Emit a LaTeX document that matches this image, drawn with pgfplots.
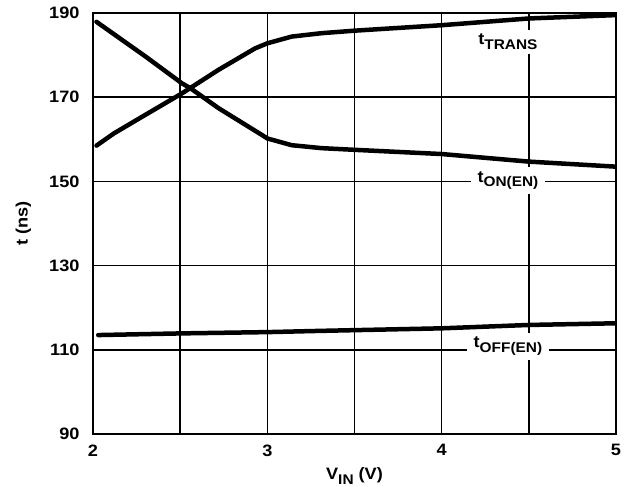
\documentclass[border=0pt]{standalone}
\usepackage{fontspec}
\setmainfont{Liberation Sans}[FakeStretch=1.1]
\usepackage{pgfplots}
\pgfplotsset{compat=1.18}
\newcommand{\sub}[1]{\raisebox{-0.3em}{\fontsize{14bp}{14bp}\selectfont #1}}
\tikzset{lbl/.style={fill=white, inner xsep=7bp, inner ysep=4bp,
    font=\bfseries\fontsize{16.5bp}{19bp}\selectfont},
  curve/.style={black, line width=4.5bp, line join=round, line cap=round}}

\begin{document}
\begin{tikzpicture}
\useasboundingbox (0,0) rectangle (635bp,487bp);
\begin{axis}[
  at={(93bp,53bp)}, anchor=south west,
  scale only axis, width=523bp, height=421bp,
  xmin=2, xmax=5, ymin=90, ymax=190,
  xtick={2,3,4,5}, minor xtick={2.5,3.5,4.5},
  ytick={90,110,...,190},
  grid=both,
  major grid style={black, line width=1.5bp},
  minor grid style={black, line width=1.5bp},
  axis line style={line width=1.5bp},
  major tick length=0, minor tick length=0,
  tick label style={font=\bfseries\fontsize{16.5bp}{19bp}\selectfont},
  /pgf/number format/assume math mode=true,
  yticklabel style={xshift=-10bp},
  xticklabel style={yshift=-7bp},
  xlabel={V\sub{IN} (V)}, ylabel={t (ns)},
  label style={font=\bfseries\fontsize{16.5bp}{19bp}\selectfont},
  xlabel style={at={(axis description cs:0.5,-0.1)}, anchor=center},
  ylabel style={at={(axis description cs:-0.133,0.5)}, anchor=center},
]
\node[lbl] at (axis cs:4.38,183.2) {t\sub{TRANS}};
\node[lbl] at (axis cs:4.38,150.2) {t\sub{ON(EN)}};
\node[lbl] at (axis cs:4.38,110.8) {t\sub{OFF(EN)}};

% t_TRANS
\addplot[curve] coordinates {
(2.02,158.5) (2.12,161.4) (2.30,165.8) (2.51,170.9) (2.72,176.5)
(2.93,181.6) (3.00,182.8) (3.14,184.4) (3.31,185.2) (3.50,185.8)
(4.00,187.1) (4.50,188.7) (5.00,189.5)
};
% t_ON(EN)
\addplot[curve] coordinates {
(2.02,187.9) (2.30,179.7) (2.51,173.3) (2.56,172.1) (2.72,167.4)
(2.97,161.0) (3.00,160.2) (3.14,158.6) (3.31,157.9) (3.50,157.5)
(4.00,156.5) (4.50,154.7) (5.00,153.5)
};
% t_OFF(EN)
\addplot[curve] coordinates {
(2.03,113.5) (2.51,113.9) (3.00,114.2) (3.31,114.5) (4.00,115.1)
(4.50,115.9) (5.00,116.3)
};
\end{axis}
\end{tikzpicture}
\end{document}
